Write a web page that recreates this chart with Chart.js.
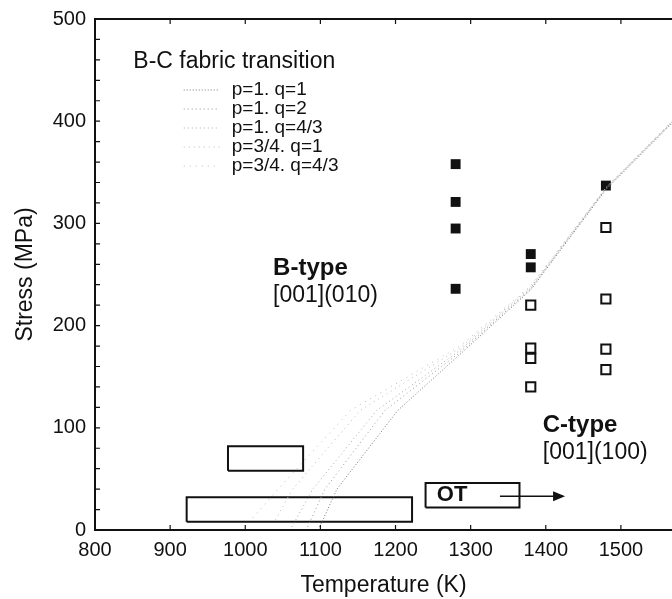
<!DOCTYPE html>
<html>
<head>
<meta charset="utf-8">
<script src="https://cdn.jsdelivr.net/npm/chart.js@4/dist/chart.umd.min.js"></script>
<style>
  html, body { margin: 0; padding: 0; background: #fff; }
  canvas { display: block; }
</style>
</head>
<body>
<canvas id="chart" width="672" height="599"></canvas>
<script>
// ── Data ──
// measured points (Temperature K, Stress MPa)
const bTypeT = [1280, 1280, 1280, 1280, 1380, 1380, 1480];
const bTypeS = [358, 321, 295, 236, 270, 257, 337];
const cTypeT = [1380, 1380, 1380, 1380, 1480, 1480, 1480, 1480];
const cTypeS = [220, 178, 168, 140, 296, 226, 177, 157];

// B-C fabric transition curves
const curveLabels = ['p=1. q=1', 'p=1. q=2', 'p=1. q=4/3', 'p=3/4. q=1', 'p=3/4. q=4/3'];
const curveP1Q1   = [[1099, 3], [1122, 40], [1203, 117], [1286, 172], [1380, 235], [1480, 333], [1568, 398]];
const curveP1Q2   = [[1083, 3], [1106, 40], [1186, 117], [1286, 174], [1380, 236], [1480, 334], [1568, 399]];
const curveP1Q43  = [[1062, 3], [1090, 40], [1175, 117], [1286, 176], [1380, 237], [1480, 334], [1568, 399]];
const curveP34Q1  = [[1040, 10], [1063, 40], [1153, 117], [1286, 178], [1380, 238], [1480, 335], [1568, 400]];
const curveP34Q43 = [[1010, 12], [1050, 45], [1140, 117], [1286, 180], [1380, 239], [1480, 335], [1568, 400]];

// experiment ranges (temperature range, stress range)
const lowBoxT = [922, 1222];
const lowBoxS = [8, 32];
const midBoxT = [977, 1077];
const midBoxS = [58, 82];
const otBoxT = [1240, 1365];
const otBoxS = [22, 46];
const otArrowT = [1339, 1423];
const otArrowS = [33, 33];

const xTicks = { min: 800, max: 1568, step: 100 };
const yTicks = { min: 0, max: 500, step: 20 };

const FONT = "'Liberation Sans', Arial, Helvetica, sans-serif";
const INK = '#111';

// ── Helpers ──
const toPoints = (ts, ss) => ts.map((t, i) => ({ x: t, y: ss[i] }));
const pairs = arr => arr.map(([x, y]) => ({ x, y }));
const rect = (ts, ss) => [
  { x: ts[0], y: ss[0] }, { x: ts[1], y: ss[0] },
  { x: ts[1], y: ss[1] }, { x: ts[0], y: ss[1] }, { x: ts[0], y: ss[0] }
];

const curveStyles = [
  { color: '#777', dash: [1, 2] },
  { color: '#999', dash: [1, 3] },
  { color: '#aaa', dash: [1, 3] },
  { color: '#bbb', dash: [1, 4] },
  { color: '#bbb', dash: [1, 5] },
];
const curves = [curveP1Q1, curveP1Q2, curveP1Q43, curveP34Q1, curveP34Q43];

const curveSets = curves.map((c, i) => ({
  label: curveLabels[i],
  data: pairs(c),
  showLine: true,
  borderColor: curveStyles[i].color,
  borderDash: curveStyles[i].dash,
  borderWidth: 1,
  pointRadius: 0,
  fill: false,
  isCurve: true,
}));

const boxSet = (label, ts, ss) => ({
  label, data: rect(ts, ss), showLine: true,
  borderColor: INK, borderWidth: 2, pointRadius: 0, fill: false,
});

// ── Extras: inward ticks, top border, labels, legend, arrowhead ──
const extras = {
  id: 'extras',
  afterDraw(chart) {
    const { ctx, chartArea: a, scales: { x, y } } = chart;
    ctx.save();
    ctx.strokeStyle = INK;

    // top border
    ctx.beginPath();
    ctx.moveTo(a.left, a.top);
    ctx.lineTo(a.right, a.top);
    ctx.lineWidth = 2;
    ctx.stroke();

    // inward ticks
    ctx.lineWidth = 1.2;
    ctx.beginPath();
    y.ticks.forEach(t => {
      const py = y.getPixelForValue(t.value);
      ctx.moveTo(a.left, py); ctx.lineTo(a.left + 5, py);
    });
    x.ticks.forEach(t => {
      const px = x.getPixelForValue(t.value);
      ctx.moveTo(px, a.bottom); ctx.lineTo(px, a.bottom - 5);
      ctx.moveTo(px, a.top); ctx.lineTo(px, a.top + 5);
    });
    ctx.stroke();

    // arrowhead for OT
    const ax = x.getPixelForValue(otArrowT[1]);
    const ay = y.getPixelForValue(otArrowS[1]);
    ctx.fillStyle = INK;
    ctx.beginPath();
    ctx.moveTo(ax + 2, ay);
    ctx.lineTo(ax - 10, ay - 5);
    ctx.lineTo(ax - 10, ay + 5);
    ctx.closePath();
    ctx.fill();

    // text annotations
    const txt = (s, t, v, font) => {
      ctx.font = font;
      ctx.fillStyle = INK;
      ctx.textAlign = 'left';
      ctx.textBaseline = 'middle';
      ctx.fillText(s, x.getPixelForValue(t), y.getPixelForValue(v));
    };
    txt('B-type', 1037, 256, `bold 24px ${FONT}`);
    txt('[001](010)', 1037, 229, `23px ${FONT}`);
    txt('C-type', 1396, 102, `bold 24px ${FONT}`);
    txt('[001](100)', 1396, 76, `23px ${FONT}`);
    txt('OT', 1255, 34, `bold 22px ${FONT}`);

    // legend block
    txt('B-C fabric transition', 851, 458, `23px ${FONT}`);
    const lx = x.getPixelForValue(982);
    let ly = a.top + 71;
    chart.data.datasets.filter(d => d.isCurve).forEach(d => {
      ctx.strokeStyle = d.borderColor;
      ctx.setLineDash(d.borderDash);
      ctx.lineWidth = 1;
      ctx.beginPath();
      ctx.moveTo(lx - 48, ly);
      ctx.lineTo(lx - 12, ly);
      ctx.stroke();
      ctx.setLineDash([]);
      ctx.font = `19px ${FONT}`;
      ctx.fillStyle = INK;
      ctx.textAlign = 'left';
      ctx.textBaseline = 'middle';
      ctx.fillText(d.label, lx, ly);
      ly += 19;
    });
    ctx.restore();
  }
};

// ── Chart ──
new Chart(document.getElementById('chart').getContext('2d'), {
  type: 'scatter',
  data: {
    datasets: [
      ...curveSets,
      boxSet('low range', lowBoxT, lowBoxS),
      boxSet('mid range', midBoxT, midBoxS),
      boxSet('OT', otBoxT, otBoxS),
      {
        label: 'OT arrow', data: toPoints(otArrowT, otArrowS), showLine: true,
        borderColor: INK, borderWidth: 1.5, pointRadius: 0,
      },
      {
        label: 'B-type', data: toPoints(bTypeT, bTypeS),
        pointStyle: 'rect', pointRadius: 7, backgroundColor: INK, borderColor: INK, borderWidth: 0,
      },
      {
        label: 'C-type', data: toPoints(cTypeT, cTypeS),
        pointStyle: 'rect', pointRadius: 6.5, backgroundColor: '#fff', borderColor: INK, borderWidth: 2,
      },
    ]
  },
  options: {
    responsive: false,
    animation: false,
    devicePixelRatio: 1,
    layout: { autoPadding: false, padding: { top: 19, right: 0, left: 0, bottom: 0 } },
    plugins: { legend: { display: false }, tooltip: { enabled: false } },
    scales: {
      x: {
        type: 'linear',
        min: xTicks.min, max: xTicks.max,
        afterFit: s => { s.height = 69; s.paddingLeft = 0; s.paddingRight = 0; },
        border: { display: true, color: INK, width: 2 },
        grid: { drawOnChartArea: false, drawTicks: false },
        ticks: {
          stepSize: xTicks.step, includeBounds: false, padding: 8,
          color: INK, font: { family: FONT, size: 20 },
          callback: v => String(v),
        },
        title: {
          display: true, text: 'Temperature (K)', color: INK,
          font: { family: FONT, size: 23 }, padding: { top: 0, bottom: 0 },
        },
      },
      y: {
        type: 'linear',
        min: yTicks.min, max: yTicks.max,
        afterFit: s => { s.width = 95; s.paddingTop = 0; s.paddingBottom = 0; },
        border: { display: true, color: INK, width: 2 },
        grid: { drawOnChartArea: false, drawTicks: false },
        ticks: {
          stepSize: yTicks.step, autoSkip: false, padding: 9,
          color: INK, font: { family: FONT, size: 20 },
          callback: v => (v % 100 === 0 ? String(v) : ''),
        },
        title: {
          display: true, text: 'Stress (MPa)', color: INK,
          font: { family: FONT, size: 23 }, padding: { top: 12, bottom: 12 },
        },
      },
    },
  },
  plugins: [extras],
});
</script>
</body>
</html>
